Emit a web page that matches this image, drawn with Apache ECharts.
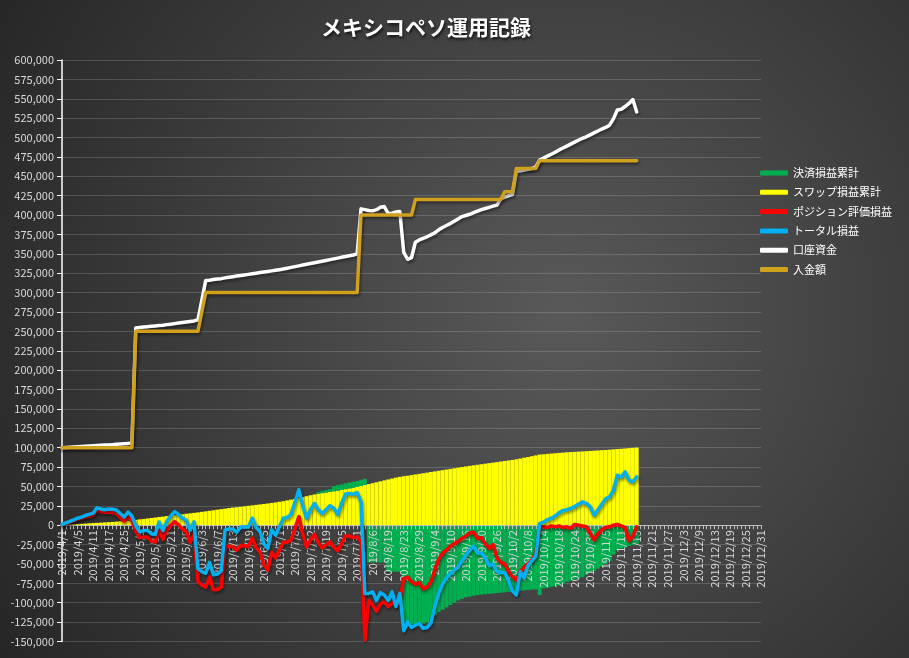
<!DOCTYPE html>
<html>
<head>
<meta charset="utf-8">
<script src="https://cdn.jsdelivr.net/npm/echarts@6/dist/echarts.min.js"></script>
<style>
html,body{margin:0;padding:0;background:#333;}
#chart{width:909px;height:658px;}
</style>
</head>
<body>
<div id="chart"></div>
<script>
// x-axis tick labels (every 4th trading day)
const tickLabels = ['2019/4/1','2019/4/5','2019/4/11','2019/4/17','2019/4/25','2019/5/9','2019/5/15','2019/5/21','2019/5/28','2019/6/3','2019/6/7','2019/6/13','2019/6/19','2019/6/25','2019/7/1','2019/7/8','2019/7/12','2019/7/19','2019/7/25','2019/7/31','2019/8/6','2019/8/19','2019/8/23','2019/8/29','2019/9/4','2019/9/10','2019/9/16','2019/9/20','2019/9/26','2019/10/2','2019/10/8','2019/10/14','2019/10/18','2019/10/24','2019/10/30','2019/11/5','2019/11/11','2019/11/15','2019/11/21','2019/11/27','2019/12/3','2019/12/9','2019/12/13','2019/12/19','2019/12/25','2019/12/31'];

// スワップ損益累計
const swapPL = [300,600,900,1200,1500,1800,2100,2400,2700,3000,
3300,3600,3900,4200,4600,5000,5400,5800,6200,6800,
7500,8100,8700,9300,9900,10500,11100,11700,12300,12900,
13500,14100,14700,15300,15900,16500,17200,17900,18600,19300,
20000,20700,21400,22100,22800,23200,23800,24400,25000,25600,
26200,26800,27400,28000,28700,29400,30200,31000,32000,33000,
34000,35000,36200,37400,38600,39600,40600,41400,42200,43000,
43800,44600,45500,46500,47500,48500,49500,50500,51800,53000,
54200,55400,56600,57800,59000,60200,61400,62400,63200,63800,
64600,65400,66200,67000,67800,68600,69400,70200,71000,71800,
72600,73400,74200,75000,75800,76500,77200,77900,78600,79300,
80000,80700,81400,82100,82800,83500,84200,85000,86000,87000,
88000,89000,90000,91000,91500,92000,92400,92800,93200,93600,
94000,94300,94600,94900,95200,95500,95800,96100,96400,96700,
97000,97400,97800,98200,98600,99000,99400,99800,100200];

// 決済損益累計
const settlementPL = [0,0,0,0,0,0,0,0,0,0,
0,0,0,0,0,0,0,0,0,0,
0,0,0,0,0,0,0,0,0,0,
0,0,0,0,0,0,0,0,0,0,
0,0,0,0,0,0,0,0,0,0,
0,0,0,0,0,0,0,0,0,0,
0,0,0,0,0,0,2000,3000,3000,3500,
6500,7000,7000,7500,7500,7500,7500,8000,8000,-48000,
-48000,-48000,-48000,-48000,-60000,-60000,-60000,-60000,-128000,-128000,
-128000,-128000,-128000,-127000,-125000,-120000,-116000,-112000,-109000,-106000,
-103000,-100000,-97000,-95000,-93000,-92000,-91000,-90000,-89500,-89000,
-88500,-88000,-87500,-87000,-86500,-86000,-85500,-85000,-84500,-84000,
-83500,-83000,-83000,-90000,-81500,-80500,-79500,-78500,-77500,-75500,
-73000,-71500,-70000,-69000,-67000,-64000,-61000,-59000,-56000,-53000,
-50000,-46000,-38000,-32000,-30000,-28500,-27000,-25500,-24000];

// ポジション評価損益
const positionPL = [700,2400,4100,5800,7500,8700,10400,11600,12800,19500,
17700,16400,17100,16300,14900,10000,5100,11200,5800,-7800,
-16000,-15100,-15200,-20300,-21900,-6500,-18100,-6700,-300,4600,
500,-5100,-8200,-21800,-11600,-72500,-77200,-79900,-66600,-83300,
-83000,-79700,-27400,-27100,-27800,-32200,-26300,-26400,-27500,-16600,
-29200,-34800,-51400,-58000,-34700,-42400,-32200,-22000,-22000,-19000,
-4000,11000,-11200,-28400,-18600,-11600,-22600,-29400,-25200,-21500,
-28300,-33000,-24500,-14000,-14000,-16000,-15000,-22000,-148000,-97000,
-103000,-111000,-101000,-99000,-105000,-100000,-104000,-97000,-69000,-67000,
-73000,-76000,-74000,-82000,-80000,-73000,-58000,-44000,-36000,-32000,
-27000,-24000,-21000,-17000,-14000,-10000,-9000,-17000,-16000,-24000,
-30000,-25000,-42000,-48000,-50000,-60000,-66000,-71000,-60000,-54000,
-50000,-45000,-36000,-2000,-2000,-3000,-1000,-2000,-1000,-3000,
-2000,-4000,1000,0,-1000,-2000,-10000,-19000,-11000,-6000,
-3000,-2000,0,1000,-1000,-3000,-20000,-14000,-2000];

// トータル損益
const totalPL = [1000,3000,5000,7000,9000,10500,12500,14000,15500,22500,
21000,20000,21000,20500,19500,15000,10500,17000,12000,-1000,
-8500,-7000,-6500,-11000,-12000,4000,-7000,5000,12000,17500,
14000,9000,6500,-6500,4300,-56000,-60000,-62000,-48000,-64000,
-63000,-59000,-6000,-5000,-5000,-9000,-2500,-2000,-2500,9000,
-3000,-8000,-24000,-30000,-6000,-13000,-2000,9000,10000,14000,
30000,46000,25000,9000,20000,28000,20000,15000,20000,25000,
22000,14000,28000,40000,41000,40000,42000,30000,-88000,-88000,
-86000,-97000,-87000,-90000,-97000,-86000,-105000,-88000,-136000,-125000,
-132000,-129000,-127000,-133000,-132000,-126000,-105000,-88000,-76000,-68000,
-62000,-58000,-54000,-46000,-39000,-32000,-27000,-36000,-36000,-42000,
-52000,-50000,-60000,-61000,-61000,-72000,-85000,-90000,-60000,-68000,
-52000,-46000,-40000,2000,4000,7000,9000,12000,16000,19000,
20000,21500,24000,27000,30000,28000,24000,13000,20000,27000,
34000,36500,45000,64500,62000,68800,58000,56000,62300];

// 口座資金
const accountBalance = [100000,100300,100600,100900,101200,101500,101800,102100,102400,102700,
103000,103300,103600,103900,104300,104700,105100,105500,106000,254500,
255000,255500,256000,256500,257000,257500,258000,258700,259300,260000,
260700,261400,262100,262800,263500,265000,290000,315500,316000,316800,
317500,318000,319000,319800,320500,321300,322000,322800,323500,324300,
325000,325800,326600,327300,328000,328800,329600,330500,331500,332500,
333500,334500,335500,336500,337500,338500,339500,340500,341500,342500,
343500,344500,345500,346500,347500,348500,350000,408000,407000,406000,
405500,407000,410000,411000,402000,402500,404000,404500,352000,343000,
345000,365000,368000,370000,372000,374500,377000,381000,384000,386500,
389000,392000,395000,398000,399500,401000,403000,405000,407000,408500,
410000,411500,413000,421000,423000,425000,426500,456000,457000,458000,
459000,460000,462000,471000,473500,476000,478500,481000,484000,486500,
489000,491500,494000,496500,499000,501000,503500,506000,508500,511000,
513000,516000,524000,535500,536500,540000,544000,549000,533000];

// 入金額
const deposits = [100000,100000,100000,100000,100000,100000,100000,100000,100000,100000,
100000,100000,100000,100000,100000,100000,100000,100000,100000,250000,
250000,250000,250000,250000,250000,250000,250000,250000,250000,250000,
250000,250000,250000,250000,250000,250000,275000,300000,300000,300000,
300000,300000,300000,300000,300000,300000,300000,300000,300000,300000,
300000,300000,300000,300000,300000,300000,300000,300000,300000,300000,
300000,300000,300000,300000,300000,300000,300000,300000,300000,300000,
300000,300000,300000,300000,300000,300000,300000,400000,400000,400000,
400000,400000,400000,400000,400000,400000,400000,400000,400000,400000,
400000,420000,420000,420000,420000,420000,420000,420000,420000,420000,
420000,420000,420000,420000,420000,420000,420000,420000,420000,420000,
420000,420000,420000,420000,430000,430000,430000,460000,460000,460000,
460000,460000,460000,470000,470000,470000,470000,470000,470000,470000,
470000,470000,470000,470000,470000,470000,470000,470000,470000,470000,
470000,470000,470000,470000,470000,470000,470000,470000,470000];

const legendNames = ['決済損益累計','スワップ損益累計','ポジション評価損益','トータル損益','口座資金','入金額'];

// trading-day categories: each tick label followed by the next three weekdays
function buildCategories(labels) {
  const out = [];
  const parse = s => { const p = s.split('/').map(Number); return new Date(p[0], p[1]-1, p[2]); };
  const fmt = d => d.getFullYear() + '/' + (d.getMonth()+1) + '/' + d.getDate();
  for (let k = 0; k < labels.length - 1; k++) {
    out.push(labels[k]);
    const a = parse(labels[k]), b = parse(labels[k+1]);
    const mids = [];
    for (let d = new Date(a.getTime() + 86400000); d < b; d = new Date(d.getTime() + 86400000)) {
      const wd = d.getDay();
      if (wd !== 0 && wd !== 6) mids.push(fmt(d));
    }
    for (let j = 0; j < 3; j++) out.push(mids[j]);
  }
  out.push(labels[labels.length - 1]);
  return out;
}
const categories = buildCategories(tickLabels);

const FONT = "'Noto Sans CJK JP', 'Noto Sans', sans-serif";
const lineShadow = { shadowColor: 'rgba(0,0,0,0.45)', shadowBlur: 3, shadowOffsetX: 1, shadowOffsetY: 2 };

const Y_MIN = -150000, Y_MAX = 600000;
const GRID_TOP = 60, GRID_BOTTOM = 16.5, H = 658;
// place the category axis (line, ticks, labels) on the zero line
const zeroOffset = -((H - GRID_BOTTOM - GRID_TOP) * (0 - Y_MIN) / (Y_MAX - Y_MIN));

const chart = echarts.init(document.getElementById('chart'), null, { renderer: 'canvas' });
chart.setOption({
  animation: false,
  backgroundColor: new echarts.graphic.RadialGradient(0.62, 0.48, 1.0, [
    { offset: 0, color: '#595959' },
    { offset: 1, color: '#262626' }
  ]),
  textStyle: { fontFamily: FONT },
  title: {
    text: 'メキシコペソ運用記録',
    left: 316, top: 12,
    textStyle: {
      color: '#ffffff', fontSize: 21, fontWeight: 'bold', fontFamily: FONT,
      textShadowColor: 'rgba(0,0,0,0.75)', textShadowBlur: 3, textShadowOffsetX: 1, textShadowOffsetY: 2
    }
  },
  legend: {
    orient: 'vertical', left: 760, top: 166, padding: 0,
    itemWidth: 28, itemHeight: 5, itemGap: 5.3, icon: 'roundRect',
    data: legendNames,
    textStyle: { color: '#ffffff', fontSize: 11, lineHeight: 14, fontFamily: FONT }
  },
  grid: { left: 62, right: 148, top: GRID_TOP, bottom: GRID_BOTTOM, containLabel: false, outerBoundsMode: 'none' },
  xAxis: {
    type: 'category', data: categories, boundaryGap: false, z: 3,
    position: 'bottom', offset: zeroOffset,
    axisLine: { onZero: false, lineStyle: { color: '#bfbfbf', width: 1 } },
    axisTick: { show: true, interval: 0, length: 4, lineStyle: { color: '#bfbfbf' } },
    axisLabel: { interval: 3, rotate: 90, color: '#d9d9d9', fontSize: 11, margin: 5, fontFamily: FONT },
    splitLine: { show: false }
  },
  yAxis: {
    type: 'value', min: Y_MIN, max: Y_MAX, interval: 25000,
    axisLine: { show: true, lineStyle: { color: '#ffffff', width: 1.5 } },
    axisTick: { show: true, length: 5, lineStyle: { color: '#ffffff' } },
    axisLabel: { color: '#d9d9d9', fontSize: 11, margin: 8, fontFamily: FONT,
      formatter: v => v.toLocaleString('en-US') },
    splitLine: { lineStyle: { color: 'rgba(255,255,255,0.16)', width: 1 } }
  },
  series: [
    { name: 'スワップ損益累計', type: 'bar', stack: 'pl', data: swapPL, barCategoryGap: '0%', z: 2,
      itemStyle: { color: '#ffff00' } },
    { name: '決済損益累計', type: 'bar', stack: 'pl', data: settlementPL, barCategoryGap: '0%', z: 2,
      itemStyle: { color: '#00b050' } },
    { name: 'ポジション評価損益', type: 'line', data: positionPL, showSymbol: false, symbol: 'none', z: 5,
      itemStyle: { color: '#ff0000' },
      lineStyle: Object.assign({ color: '#ff0000', width: 3.5, join: 'round', cap: 'round' }, lineShadow) },
    { name: 'トータル損益', type: 'line', data: totalPL, showSymbol: false, symbol: 'none', z: 5,
      itemStyle: { color: '#00b0f0' },
      lineStyle: Object.assign({ color: '#00b0f0', width: 3.5, join: 'round', cap: 'round' }, lineShadow) },
    { name: '口座資金', type: 'line', data: accountBalance, showSymbol: false, symbol: 'none', z: 5,
      itemStyle: { color: '#ffffff' },
      lineStyle: Object.assign({ color: '#ffffff', width: 3.5, join: 'round', cap: 'round' }, lineShadow) },
    { name: '入金額', type: 'line', data: deposits, showSymbol: false, symbol: 'none', z: 5,
      itemStyle: { color: '#cfa11d' },
      lineStyle: Object.assign({ color: '#cfa11d', width: 3.5, join: 'round', cap: 'round' }, lineShadow) }
  ]
});
</script>
</body>
</html>
